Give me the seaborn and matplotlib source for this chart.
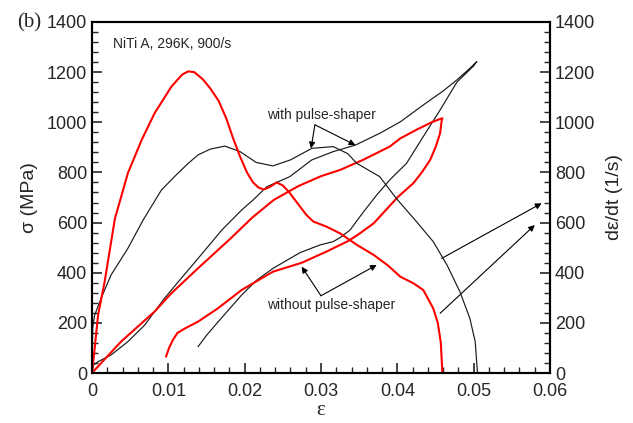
import numpy as np
import pandas as pd
import matplotlib
matplotlib.use("Agg")
import matplotlib.pyplot as plt
from matplotlib.ticker import MultipleLocator
import seaborn as sns

# ---- data ----
# stress-strain loop, without pulse-shaper (red)
red_ss_x = [0, 0.0038, 0.0082, 0.0104, 0.0139, 0.0181, 0.0210, 0.0238, 0.0270, 0.0300,
            0.0325, 0.0355, 0.0390, 0.0404, 0.0425, 0.0445, 0.0455, 0.0459,
            0.0458, 0.0456, 0.0450, 0.0443, 0.0432, 0.0421, 0.0401, 0.0385, 0.0369,
            0.0350, 0.0336, 0.0307, 0.0275, 0.0237, 0.0196, 0.0165, 0.0139, 0.0122,
            0.0112, 0.0106, 0.0101, 0.0097]
red_ss_y = [0, 125, 245, 318, 418, 535, 620, 690, 745, 785,
            810, 850, 903, 936, 970, 1000, 1012, 1016,
            1005, 956, 900, 850, 800, 757, 703, 650, 597,
            555, 527, 484, 440, 404, 331, 258, 205, 178,
            160, 132, 100, 65]

# stress-strain loop, with pulse-shaper (black)
blk_ss_x = [0, 0.0002, 0.0008, 0.0025, 0.0047, 0.0069, 0.0095, 0.0117, 0.0139, 0.0170,
            0.0196, 0.0211, 0.0229, 0.0259, 0.0288, 0.0316, 0.0345, 0.0377, 0.0404,
            0.0434, 0.0460, 0.0478, 0.0495, 0.0504,
            0.0500, 0.0478, 0.0456, 0.0434, 0.0412, 0.0390, 0.0373, 0.0355, 0.0338,
            0.0325, 0.0316, 0.0299, 0.02725, 0.02375, 0.0216, 0.0196, 0.01655,
            0.0150, 0.0139]
blk_ss_y = [0, 32, 45, 72, 125, 191, 298, 378, 457, 570,
            650, 690, 743, 783, 850, 883, 909, 956, 1002,
            1069, 1125, 1169, 1215, 1242,
            1225, 1160, 1049, 943, 836, 770, 710, 640, 570,
            540, 524, 511, 480, 418, 371, 311, 205,
            150, 105]

# strain rate, without pulse-shaper (red)
red_rate_x = [0, 0.00035, 0.0008, 0.00166, 0.0030, 0.0047, 0.0065, 0.0082, 0.0104, 0.0118,
              0.0126, 0.0134, 0.0145, 0.0155, 0.0166, 0.0176, 0.0185, 0.0194, 0.0203,
              0.0211, 0.0218, 0.0225, 0.0233, 0.0242, 0.0250, 0.0258, 0.0266, 0.0281,
              0.0290, 0.0307, 0.0325, 0.0347, 0.0369, 0.0388, 0.0404, 0.0421, 0.0434,
              0.0447, 0.0453, 0.0457, 0.0459]
red_rate_y = [0, 98, 231, 364, 615, 797, 929, 1036, 1142, 1190,
              1203, 1200, 1172, 1135, 1085, 1015, 935, 863, 800,
              760, 740, 732, 742, 760, 748, 722, 690, 630,
              604, 584, 557, 511, 471, 428, 384, 358, 331,
              258, 200, 120, 0]

# strain rate, with pulse-shaper (black)
blk_rate_x = [0, 0.0001, 0.00035, 0.0012, 0.0025, 0.0047, 0.0067, 0.0091, 0.0108, 0.0126,
              0.0139, 0.0155, 0.0174, 0.0194, 0.0215, 0.0237, 0.0260, 0.0288, 0.0316,
              0.0335, 0.0347, 0.0377, 0.0399, 0.0425, 0.0447, 0.0465, 0.0482, 0.0495,
              0.0502, 0.0505]
blk_rate_y = [0, 180, 231, 298, 391, 497, 610, 730, 783, 836,
              870, 893, 905, 883, 840, 826, 850, 896, 903,
              875, 836, 783, 695, 604, 524, 431, 324, 218,
              125, 0]

x_ticks = [0, 0.01, 0.02, 0.03, 0.04, 0.05, 0.06]
x_tick_labels = ["0", "0.01", "0.02", "0.03", "0.04", "0.05", "0.06"]
y_ticks = [0, 200, 400, 600, 800, 1000, 1200, 1400]

# ---- styling ----
sns.set_style("ticks")
plt.rcParams['font.family'] = ['Liberation Sans', 'DejaVu Sans']

fig = plt.figure(figsize=(6.33, 4.23), dpi=100)
ax = fig.add_axes([0.1453, 0.1182, 0.8689 - 0.1453, 0.948 - 0.1182])
ax2 = ax.twinx()

red = "#ff0000"
blk = "#1a1a1a"

df_red_ss = pd.DataFrame({"x": red_ss_x, "y": red_ss_y})
df_blk_ss = pd.DataFrame({"x": blk_ss_x, "y": blk_ss_y})
df_red_rate = pd.DataFrame({"x": red_rate_x, "y": red_rate_y})
df_blk_rate = pd.DataFrame({"x": blk_rate_x, "y": blk_rate_y})

sns.lineplot(data=df_blk_ss, x="x", y="y", sort=False, estimator=None, color=blk, lw=0.85, ax=ax)
sns.lineplot(data=df_red_ss, x="x", y="y", sort=False, estimator=None, color=red, lw=1.5, ax=ax)
sns.lineplot(data=df_blk_rate, x="x", y="y", sort=False, estimator=None, color=blk, lw=0.85, ax=ax2)
sns.lineplot(data=df_red_rate, x="x", y="y", sort=False, estimator=None, color=red, lw=1.5, ax=ax2)

for a in (ax, ax2):
    a.set_xlim(0, 0.06)
    a.set_ylim(0, 1400)
    a.set_yticks(y_ticks)
    a.yaxis.set_minor_locator(MultipleLocator(40))
    a.tick_params(axis='both', which='major', direction='in', length=7, width=1.2, labelsize=13)
    a.tick_params(axis='both', which='minor', direction='in', length=4, width=1.0)
    for s in a.spines.values():
        s.set_linewidth(1.5)
        s.set_color("black")
    a.set_xlabel("")

ax.set_xticks(x_ticks)
ax.set_xticklabels(x_tick_labels)
ax.xaxis.set_minor_locator(MultipleLocator(0.002))
ax.tick_params(axis='x', which='both', top=False, pad=7)
ax.tick_params(axis='y', which='both', right=False, left=True)
ax2.tick_params(axis='y', which='both', right=True, left=False)

ax.set_ylabel("σ (MPa)", fontsize=14, labelpad=6)
ax2.set_ylabel("dε/dt (1/s)", fontsize=14, labelpad=8)
ax.set_xlabel("ε", fontsize=15, family=['Liberation Serif', 'DejaVu Serif'], labelpad=1)

# annotations
ax.text(0.00275, 1312, "NiTi A, 296K, 900/s", fontsize=10, va='center', ha='left')
fig.text(0.027, 0.946, "(b)", fontsize=15, family=['Liberation Serif', 'DejaVu Serif'],
         va='center', ha='left')

ap = dict(arrowstyle='-|>', color='black', lw=0.8, mutation_scale=9, shrinkA=0, shrinkB=0)
ax.text(0.0300, 1030, "with pulse-shaper", fontsize=10, ha='center', va='center')
ax.annotate("", xy=(0.0287, 896), xytext=(0.0292, 990), arrowprops=ap)
ax.annotate("", xy=(0.0345, 909), xytext=(0.0292, 990), arrowprops=ap)

ax.text(0.0313, 271, "without pulse-shaper", fontsize=10, ha='center', va='center')
ax.annotate("", xy=(0.02747, 424), xytext=(0.0300, 308), arrowprops=ap)
ax.annotate("", xy=(0.0373, 431), xytext=(0.0300, 308), arrowprops=ap)

ax.annotate("", xy=(0.0589, 677), xytext=(0.0458, 457), arrowprops=ap)
ax.annotate("", xy=(0.0580, 590), xytext=(0.0456, 238), arrowprops=ap)

fig.savefig("out.png", dpi=100)
